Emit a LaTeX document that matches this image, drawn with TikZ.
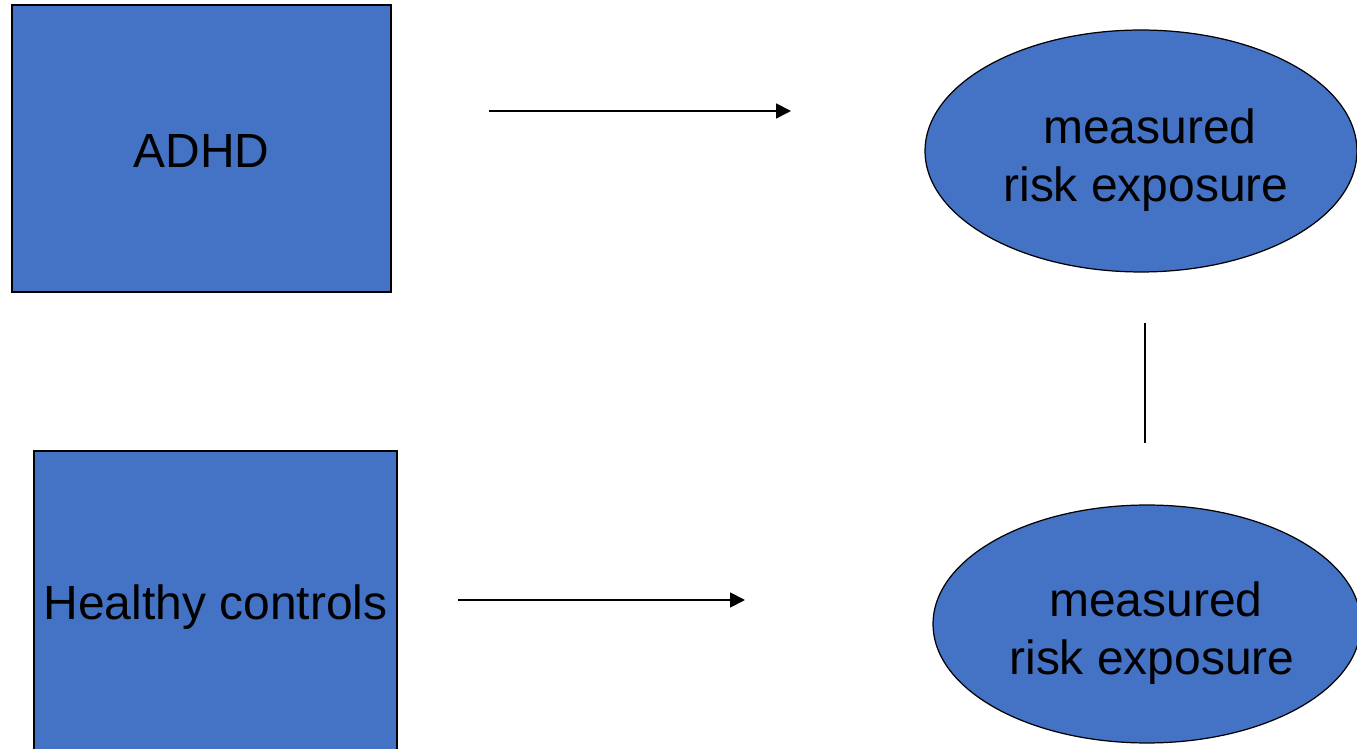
\documentclass[tikz,border=0pt]{standalone}
\usepackage{fontspec}
\setmainfont{Liberation Sans}
\usepackage{tikz}
\usetikzlibrary{arrows.meta,shapes.geometric}
\definecolor{grp}{HTML}{4472C4}
\definecolor{edg}{HTML}{000000}
\newcommand{\dropby}[2]{\raisebox{-#1}[\height][\depth]{#2}}

\begin{document}
\begin{tikzpicture}[x=0.02cm,y=-0.02cm,
  box/.style={draw=edg,fill=grp,line width=0.7pt,inner sep=0pt,
    font=\fontsize{27.3}{33}\selectfont},
  blob/.style={ellipse,draw=edg,fill=grp,line width=0.7pt,inner sep=0pt,
    align=center,font=\fontsize{27.3}{33}\selectfont},
  link/.style={-{Triangle[length=8.5pt,width=8.5pt]},line width=1pt}]
  \useasboundingbox (0,0) rectangle (1357,749);
  % groups
  \node[box,minimum width=7.58cm,minimum height=5.74cm] (adhd) at (201.5,148.5) {\dropby{0.05cm}{ADHD}};
  \node[box,minimum width=7.26cm,minimum height=6.0cm] (hc) at (215.5,601) {\dropby{0.12cm}{Healthy controls}};
  % outcomes
  \node[blob,minimum width=8.64cm,minimum height=4.84cm] (riska) at (1141,151)
    {\dropby{0.18cm}{\hspace*{0.35cm}measured}\\\dropby{0.18cm}{\hspace*{0.2cm}risk exposure}};
  \node[blob,minimum width=8.56cm,minimum height=4.76cm] (riskb) at (1147,624)
    {\dropby{0.18cm}{\hspace*{0.35cm}measured}\\\dropby{0.18cm}{\hspace*{0.2cm}risk exposure}};
  % connectors
  \coordinate (a0) at (489,111);
  \coordinate (a1) at (791,111);
  \coordinate (b0) at (458,600);
  \coordinate (b1) at (745,600);
  \coordinate (c0) at (1145,323);
  \coordinate (c1) at (1145,443);
  \draw[link] (a0) -- (a1);
  \draw[link] (b0) -- (b1);
  \draw[line width=0.8pt] (c0) -- (c1);
\end{tikzpicture}
\end{document}
